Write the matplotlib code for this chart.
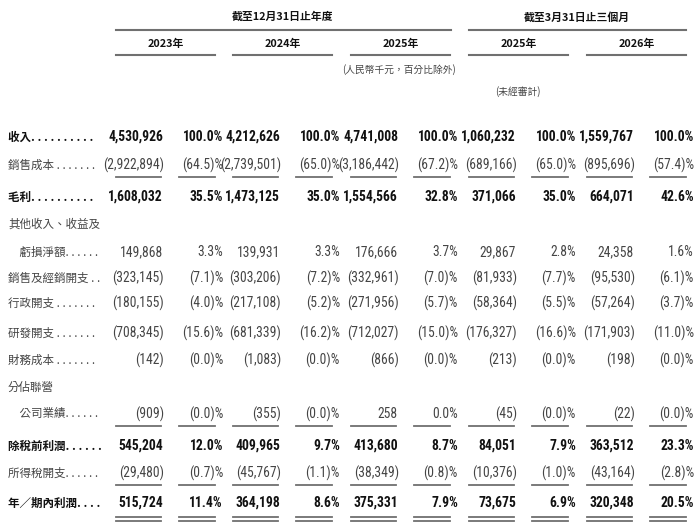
import numpy as np
import matplotlib
matplotlib.use("Agg")
import matplotlib.pyplot as plt

labels = ["收入", "銷售成本 ", "毛利", "其他收入、收益及", "　虧損淨額",
          "銷售及經銷開支 ", "行政開支 ", "研發開支 ", "財務成本 ", "分佔聯營",
          "　公司業績", "除稅前利潤", "所得稅開支", "年／期內利潤"]
leader_dots = [10, 7, 10, 0, 6, 2, 7, 7, 7, 0, 6, 6, 6, 4]
bold_rows = [0, 2, 11, 13]
value_rows = [0, 1, 2, 4, 5, 6, 7, 8, 10, 11, 12, 13]

group_titles = ["截至12月31日止年度", "截至3月31日止三個月"]
col_years = ["2023年", "2024年", "2025年", "2025年", "2026年"]

amt_2023 = [4530926, -2922894, 1608032, 149868, -323145, -180155, -708345, -142, -909, 545204, -29480, 515724]
pct_2023 = [100.0, -64.5, 35.5, 3.3, -7.1, -4.0, -15.6, -0.0, -0.0, 12.0, -0.7, 11.4]
amt_2024 = [4212626, -2739501, 1473125, 139931, -303206, -217108, -681339, -1083, -355, 409965, -45767, 364198]
pct_2024 = [100.0, -65.0, 35.0, 3.3, -7.2, -5.2, -16.2, -0.0, -0.0, 9.7, -1.1, 8.6]
amt_2025 = [4741008, -3186442, 1554566, 176666, -332961, -271956, -712027, -866, 258, 413680, -38349, 375331]
pct_2025 = [100.0, -67.2, 32.8, 3.7, -7.0, -5.7, -15.0, -0.0, 0.0, 8.7, -0.8, 7.9]
amt_q2025 = [1060232, -689166, 371066, 29867, -81933, -58364, -176327, -213, -45, 84051, -10376, 73675]
pct_q2025 = [100.0, -65.0, 35.0, 2.8, -7.7, -5.5, -16.6, -0.0, -0.0, 7.9, -1.0, 6.9]
amt_q2026 = [1559767, -895696, 664071, 24358, -95530, -57264, -171903, -198, -22, 363512, -43164, 320348]
pct_q2026 = [100.0, -57.4, 42.6, 1.6, -6.1, -3.7, -11.0, -0.0, -0.0, 23.3, -2.8, 20.5]

amounts = [amt_2023, amt_2024, amt_2025, amt_q2025, amt_q2026]
percents = [pct_2023, pct_2024, pct_2025, pct_q2025, pct_q2026]

# --- layout (pixels) ---
row_y = [137, 165, 197, 224, 252, 278, 303, 333, 360, 387, 414, 446, 473, 503]
block_left = [116, 233, 351, 469, 587]
block_w = 99

num_fam = ["Roboto Condensed", "Noto Sans CJK TC"]
cjk = ["Noto Sans CJK TC", "DejaVu Sans"]

grey = "#454545"
dark = "#111111"
rule = "#707070"


def fmt_amt(v):
    s = f"{abs(v):,}"
    return f"({s})" if v < 0 else s


def fmt_pct(v):
    s = f"{abs(v):.1f}"
    return f"({s})%" if np.signbit(v) else s + "%"


fig = plt.figure(figsize=(7, 5.28), dpi=100)
ax = fig.add_axes([0, 0, 1, 1])
ax.set_xlim(0, 700)
ax.set_ylim(528, 0)
ax.axis("off")

# header
ax.text(283, 17, group_titles[0], ha="center", va="center", fontsize=7.8,
        fontweight="bold", family=cjk, color=dark)
ax.text(577, 17, group_titles[1], ha="center", va="center", fontsize=7.8,
        fontweight="bold", family=cjk, color=dark)
ax.plot([116, 451], [30, 30], color=rule, lw=1.5)
ax.plot([469, 686], [30, 30], color=rule, lw=1.5)
for i, yr in enumerate(col_years):
    x0 = block_left[i]
    ax.text(x0 + block_w / 2, 44, yr, ha="center", va="center", fontsize=7.8,
            fontweight="bold", family=cjk, color=dark)
    ax.plot([x0, x0 + block_w], [55, 55], color=rule, lw=1.5)
ax.text(399, 70, "(人民幣千元，百分比除外)", ha="center", va="center",
        fontsize=7, family=cjk, color=grey)
ax.text(518, 92, "(未經審計)", ha="center", va="center",
        fontsize=7, family=cjk, color=grey)

# row labels with dot leaders
for i, lab in enumerate(labels):
    b = i in bold_rows
    col = dark if b else grey
    txt = lab + " ".join(["."] * leader_dots[i])
    ax.text(8, row_y[i], txt, ha="left", va="center", fontsize=8.3,
            fontweight="bold" if b else "normal", family=cjk, color=col)

# numbers
for c in range(5):
    x0 = block_left[c]
    for k, r in enumerate(value_rows):
        b = r in bold_rows
        a = amounts[c][k]
        p = percents[c][k]
        ax.text(x0 + (48 if a < 0 else 47), row_y[r], fmt_amt(a), ha="right", va="center",
                fontsize=9.8, fontweight="bold" if b else "normal", family=num_fam,
                color=dark if b else grey)
        ax.text(x0 + 107, row_y[r], fmt_pct(p), ha="right", va="center",
                fontsize=9.8, fontweight="bold" if b else "normal", family=num_fam,
                color=dark if b else grey)
    # underlines
    for y in [177, 426, 485, 517, 521]:
        ax.plot([x0, x0 + 45], [y, y], color=rule, lw=1.3)
        ax.plot([x0 + 63, x0 + 99], [y, y], color=rule, lw=1.3)

fig.savefig("out.png", dpi=100, facecolor="white")
